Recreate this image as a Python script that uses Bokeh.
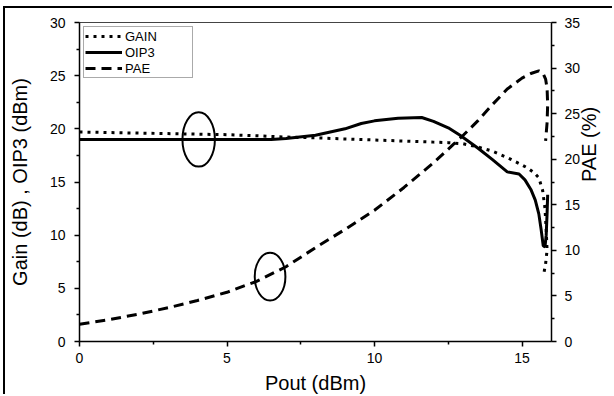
import math
from bokeh.plotting import figure
from bokeh.models import Range1d, LinearAxis, Legend, LegendItem, FixedTicker
from bokeh.embed import file_html
from bokeh.resources import INLINE

# ---- data ----
pout_gain = [0, 1, 2, 3, 4, 5, 6, 6.75, 8, 9, 10, 11, 12, 12.5, 13, 13.5, 14, 14.5,
             15, 15.2, 15.4, 15.57, 15.7, 15.78, 15.82, 15.85, 15.8, 15.74]
gain = [19.7, 19.65, 19.6, 19.55, 19.5, 19.45, 19.35, 19.25, 19.15, 19.05, 18.95,
        18.85, 18.75, 18.7, 18.6, 18.3, 17.9, 17.3, 16.6, 16.3, 15.9, 15.4, 14.2,
        12.5, 10.5, 8.6, 7.3, 6.4]

pout_oip3 = [0, 2, 4, 6, 6.5, 7, 8, 9, 9.55, 10, 10.8, 11.6, 12, 12.5, 12.9, 13.5,
             14, 14.5, 14.9, 15.1, 15.3, 15.45, 15.57, 15.65, 15.72, 15.78, 15.82,
             15.85, 15.87]
oip3 = [19.0, 19.0, 19.0, 19.0, 19.0, 19.1, 19.4, 20.0, 20.5, 20.75, 21.0, 21.07,
        20.7, 20.1, 19.4, 18.2, 17.1, 15.95, 15.75, 15.2, 14.3, 13.3, 12.0, 10.5,
        9.0, 8.9, 10.0, 12.0, 13.8]

pout_pae = [0, 1, 2, 3, 4, 5, 6, 7, 8, 9, 10, 11, 12, 12.7, 13, 13.5, 14, 14.5, 15,
            15.3, 15.57, 15.7, 15.8, 15.85, 15.87, 15.85, 15.8]
pae = [1.9, 2.4, 3.0, 3.7, 4.5, 5.4, 6.6, 8.2, 10.3, 12.3, 14.4, 16.9, 19.6, 21.7,
       22.6, 24.2, 26.0, 27.7, 28.9, 29.4, 29.7, 29.5, 28.8, 27.8, 26.0, 24.0, 22.0]

# annotation ellipses (x, y on left axis, width, height in data units)
ell_x = [4.04, 6.46]
ell_y = [19.0, 6.1]
ell_w = [1.1, 1.04]
ell_h = [5.1, 4.5]

x_ticks = [0, 5, 10, 15]
left_ticks = [0, 5, 10, 15, 20, 25, 30]
right_ticks = [0, 5, 10, 15, 20, 25, 30, 35]

FONT = "Liberation Sans"

p = figure(width=609, height=388, output_backend="svg", toolbar_location=None,
           x_range=Range1d(0, 16), y_range=Range1d(0, 30),
           min_border_left=73, min_border_right=59, min_border_top=14,
           min_border_bottom=55)
p.styles = {"margin-left": "3px", "margin-top": "6px",
            "border-left": "2px solid black", "border-top": "2px solid black"}
p.extra_y_ranges = {"pae": Range1d(0, 35)}
p.grid.visible = False
p.outline_line_color = "#444444"
p.outline_line_width = 1
p.background_fill_color = "white"
p.border_fill_color = "white"


def style_axis(ax, ticks, minor):
    ax.ticker = FixedTicker(ticks=ticks, minor_ticks=minor)
    ax.axis_line_color = "black"
    ax.axis_line_width = 1.5
    ax.major_tick_line_color = "black"
    ax.major_tick_line_width = 1.5
    ax.minor_tick_line_color = "black"
    ax.minor_tick_line_width = 1.5
    ax.major_tick_out = 5
    ax.major_tick_in = 0
    ax.minor_tick_out = 3
    ax.minor_tick_in = 0
    ax.major_label_text_font = FONT
    ax.major_label_text_font_size = "14px"
    ax.major_label_text_color = "black"
    ax.axis_label_text_font = FONT
    ax.axis_label_text_font_size = "20px"
    ax.axis_label_text_font_style = "normal"
    ax.axis_label_text_color = "black"


xa = p.xaxis[0]
style_axis(xa, x_ticks, [2.5, 7.5, 12.5])
xa.axis_label = "Pout (dBm)"
xa.major_label_standoff = 6
xa.axis_label_standoff = 6

ya = p.yaxis[0]
style_axis(ya, left_ticks, [2.5, 7.5, 12.5, 17.5, 22.5, 27.5])
ya.axis_label = "Gain (dB) , OIP3 (dBm)"
ya.major_label_standoff = 9
ya.axis_label_standoff = 16

ra = LinearAxis(y_range_name="pae")
style_axis(ra, right_ticks, [2.5, 7.5, 12.5, 17.5, 22.5, 27.5, 32.5])
ra.axis_label = "PAE (%)"
ra.axis_label_orientation = math.pi / 2
ra.major_label_standoff = 8
ra.axis_label_standoff = 6
p.add_layout(ra, "right")

r_gain = p.line(pout_gain, gain, line_color="black", line_width=3,
                line_dash="3 5")
r_oip3 = p.line(pout_oip3, oip3, line_color="black", line_width=3)
r_pae = p.line(pout_pae, pae, y_range_name="pae", line_color="black",
               line_width=3, line_dash="10 6")

p.ellipse(x=ell_x, y=ell_y, width=ell_w, height=ell_h, fill_alpha=0,
          line_color="black", line_width=2)

legend = Legend(items=[LegendItem(label="GAIN", renderers=[r_gain]),
                       LegendItem(label="OIP3", renderers=[r_oip3]),
                       LegendItem(label="PAE", renderers=[r_pae])],
                location="top_left")
legend.margin = 4
legend.padding = 1
legend.spacing = 0
legend.glyph_width = 37
legend.glyph_height = 16
legend.label_height = 16
legend.label_width = 66
legend.label_standoff = 3
legend.label_text_font = FONT
legend.label_text_font_size = "13px"
legend.label_text_color = "black"
legend.border_line_color = "#555555"
legend.border_line_width = 1
legend.background_fill_color = "white"
legend.background_fill_alpha = 1
p.add_layout(legend, "center")

open("out.html", "w").write(file_html(p, INLINE))
